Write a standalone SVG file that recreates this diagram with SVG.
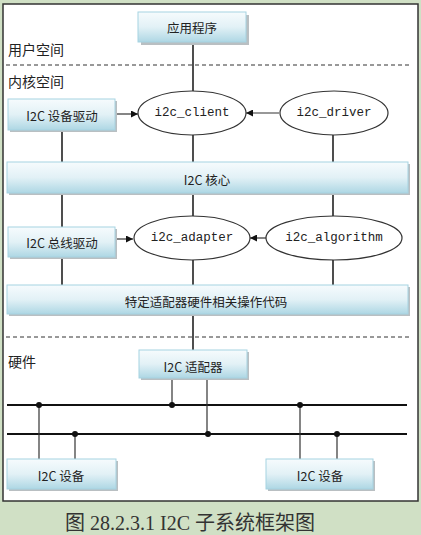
<svg xmlns="http://www.w3.org/2000/svg" width="421" height="535" viewBox="0 0 421 535">
<defs>
<linearGradient id="bg" x1="0" y1="0" x2="0" y2="1">
<stop offset="0" stop-color="#f6fbfd"/>
<stop offset="0.5" stop-color="#e2f1f6"/>
<stop offset="1" stop-color="#aed7e4"/>
</linearGradient>
<marker id="ah" viewBox="0 0 10 10" refX="10" refY="5" markerWidth="7" markerHeight="7" orient="auto" markerUnits="userSpaceOnUse">
<path d="M0,0 L10,5 L0,10 z" fill="#111"/>
</marker>
</defs>
<style>
.box{fill:url(#bg);stroke:#a6d3e1;stroke-width:1}
.sh{fill:#b9bfc2}
.bt{font-family:"Noto Sans CJK SC","Liberation Sans",sans-serif;font-size:12.5px;fill:#222;text-anchor:middle;dominant-baseline:central}
.el{fill:#fff;stroke:#333;stroke-width:1.2}
.et{font-family:"Liberation Mono","DejaVu Sans Mono",monospace;font-size:12.5px;fill:#222;text-anchor:middle;dominant-baseline:central}
.ln{stroke:#222;stroke-width:1.6;fill:none}
.thin{stroke:#333;stroke-width:1.2;fill:none}
.bus{stroke:#111;stroke-width:2;fill:none}
.dash{stroke:#333;stroke-width:1;stroke-dasharray:4,3;fill:none}
.lab{font-family:"Noto Sans CJK SC",sans-serif;font-size:14px;fill:#222}
</style>
<rect x="0" y="0" width="421" height="535" fill="#d0e0c5"/>
<rect x="3" y="4" width="415" height="497" fill="#fff" stroke="#333" stroke-width="1.5"/>
<line class="dash" x1="6" y1="65" x2="412" y2="65"/>
<line class="dash" x1="6" y1="337" x2="412" y2="337"/>
<text class="lab" x="8" y="55">用户空间</text>
<text class="lab" x="8" y="87">内核空间</text>
<text class="lab" x="8" y="367">硬件</text>
<g id="connectors">
<line class="ln" x1="193" y1="42" x2="193" y2="91"/>
<line class="ln" x1="193" y1="135" x2="193" y2="162"/>
<line class="ln" x1="62" y1="130" x2="62" y2="162"/>
<line class="ln" x1="333" y1="135" x2="333" y2="162"/>
<line class="ln" x1="62" y1="193" x2="62" y2="227"/>
<line class="ln" x1="193" y1="193" x2="193" y2="216"/>
<line class="ln" x1="333" y1="193" x2="333" y2="216"/>
<line class="ln" x1="62" y1="257" x2="62" y2="285"/>
<line class="ln" x1="193" y1="260" x2="193" y2="285"/>
<line class="ln" x1="333" y1="260" x2="333" y2="285"/>
<line class="ln" x1="193" y1="314" x2="193" y2="350"/>
<line class="thin" x1="115" y1="114" x2="138" y2="114" marker-end="url(#ah)"/>
<line class="thin" x1="279" y1="113" x2="246" y2="113" marker-end="url(#ah)"/>
<line class="thin" x1="115" y1="239" x2="133" y2="239" marker-end="url(#ah)"/>
<line class="thin" x1="266" y1="238" x2="250" y2="238" marker-end="url(#ah)"/>
<line class="bus" x1="7" y1="405" x2="407" y2="405"/>
<line class="bus" x1="7" y1="434" x2="407" y2="434"/>
<line class="thin" x1="172" y1="378" x2="172" y2="405"/>
<line class="thin" x1="207" y1="378" x2="207" y2="434"/>
<line class="thin" x1="39" y1="405" x2="39" y2="459"/>
<line class="thin" x1="75" y1="434" x2="75" y2="459"/>
<line class="thin" x1="300" y1="405" x2="300" y2="459"/>
<line class="thin" x1="337" y1="434" x2="337" y2="459"/>
<circle cx="39" cy="405" r="3" fill="#111"/>
<circle cx="172" cy="405" r="3" fill="#111"/>
<circle cx="300" cy="405" r="3" fill="#111"/>
<circle cx="75" cy="434" r="3" fill="#111"/>
<circle cx="208" cy="434" r="3" fill="#111"/>
<circle cx="337" cy="434" r="3" fill="#111"/>
</g>
<g id="app">
<rect class="sh" x="141" y="15" width="108" height="30"/>
<rect class="box" x="138" y="12" width="108" height="30"/>
<text class="bt" x="192" y="27">应用程序</text>
</g>
<g id="devdrv">
<rect class="sh" x="10" y="101" width="107" height="31"/>
<rect class="box" x="8" y="99" width="107" height="31"/>
<text class="bt" x="62" y="115">I2C 设备驱动</text>
</g>
<g id="client">
<ellipse class="el" cx="192" cy="113" rx="54" ry="22"/>
<text class="et" x="192" y="113">i2c_client</text>
</g>
<g id="driver">
<ellipse class="el" cx="334" cy="113" rx="54" ry="22"/>
<text class="et" x="334" y="113">i2c_driver</text>
</g>
<g id="core">
<rect class="sh" x="9" y="164" width="401" height="31"/>
<rect class="box" x="7" y="162" width="401" height="31"/>
<text class="bt" x="207" y="179">I2C 核心</text>
</g>
<g id="busdrv">
<rect class="sh" x="10" y="229" width="107" height="30"/>
<rect class="box" x="8" y="227" width="107" height="30"/>
<text class="bt" x="62" y="242">I2C 总线驱动</text>
</g>
<g id="adapter">
<ellipse class="el" cx="192" cy="238" rx="58" ry="22"/>
<text class="et" x="192" y="238">i2c_adapter</text>
</g>
<g id="algorithm">
<ellipse class="el" cx="334" cy="238" rx="68" ry="22"/>
<text class="et" x="334" y="238">i2c_algorithm</text>
</g>
<g id="hwops">
<rect class="sh" x="9" y="287" width="401" height="29"/>
<rect class="box" x="7" y="285" width="401" height="29"/>
<text class="bt" x="206" y="301">特定适配器硬件相关操作代码</text>
</g>
<g id="hwadapter">
<rect class="sh" x="141" y="352" width="108" height="28"/>
<rect class="box" x="139" y="350" width="108" height="28"/>
<text class="bt" x="193" y="366">I2C 适配器</text>
</g>
<g id="dev1">
<rect class="sh" x="9" y="461" width="109" height="30"/>
<rect class="box" x="7" y="459" width="109" height="30"/>
<text class="bt" x="61" y="475">I2C 设备</text>
</g>
<g id="dev2">
<rect class="sh" x="268" y="461" width="107" height="30"/>
<rect class="box" x="266" y="459" width="107" height="30"/>
<text class="bt" x="320" y="475">I2C 设备</text>
</g>
<text x="190" y="530" font-family="'Liberation Serif','Noto Sans CJK SC',serif" font-size="20" fill="#333" text-anchor="middle">图 28.2.3.1 I2C 子系统框架图</text>
</svg>
